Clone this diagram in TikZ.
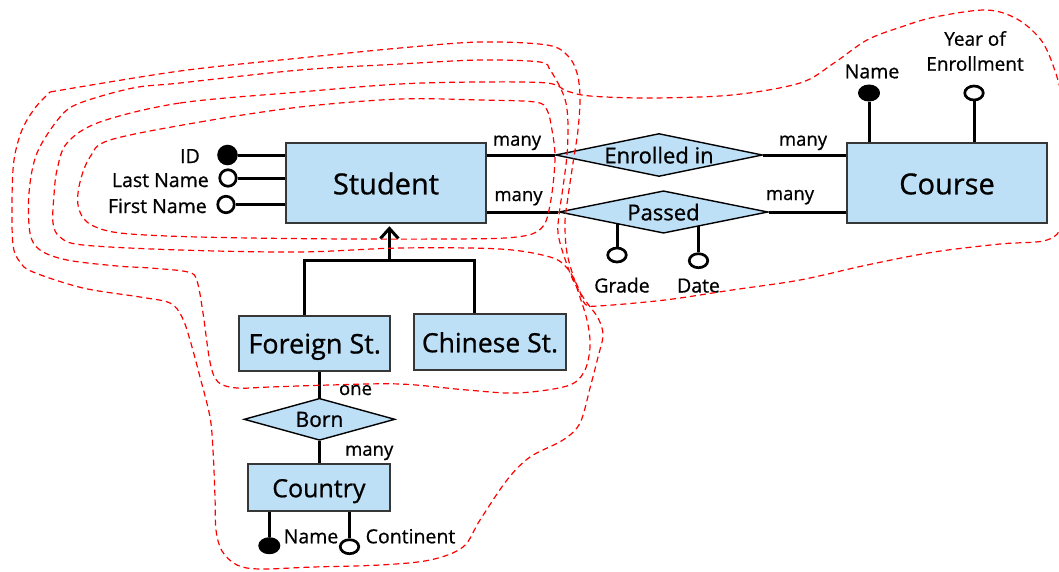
\documentclass[tikz,border=0pt]{standalone}
\usepackage{fontspec}
\setmainfont{Open Sans}[RawFeature={embolden=0.8}]
\usetikzlibrary{shapes.geometric,arrows.meta,backgrounds}
\definecolor{erfill}{RGB}{189,224,247}
\definecolor{erline}{RGB}{55,55,55}
\begin{document}
\begin{tikzpicture}[x=1pt,y=-1pt,
  entity/.style={draw=erline, fill=erfill, line width=1.9pt, inner sep=0pt, text depth=0pt},
  relation/.style={diamond, draw=black, fill=erfill, line width=1.4pt, inner sep=0pt, text depth=0pt},
  link/.style={line width=3pt, draw=black},
  keyattr/.style={circle, fill=black, draw=black, line width=1pt, minimum size=19.5pt, inner sep=0pt},
  attr/.style={circle, fill=white, draw=black, line width=2.7pt, minimum size=16.5pt, inner sep=0pt},
  keyoval/.style={ellipse, fill=black, draw=black, line width=1pt, minimum width=21pt, minimum height=16pt, inner sep=0pt},
  attroval/.style={ellipse, fill=white, draw=black, line width=2.7pt, minimum width=18.5pt, minimum height=14pt, inner sep=0pt},
  lbl/.style={inner sep=0pt, font=\fontsize{19.5}{23}\selectfont},
  card/.style={inner sep=0pt, font=\fontsize{18.5}{22}\selectfont},
  fence/.style={draw=red, line width=1.2pt, dash pattern=on 6pt off 4pt}
]
\useasboundingbox (0,0) rectangle (1059,571);

% entities
\node[entity, minimum width=200pt, minimum height=80pt, text height=22pt,
      font=\fontsize{29}{34}\selectfont] (student) at (386,183.3) {Student};
\node[entity, minimum width=200pt, minimum height=80pt, text height=22pt,
      font=\fontsize{29}{34}\selectfont] (course) at (947,183.3) {Course};
\node[entity, minimum width=150.7pt, minimum height=55.3pt, text height=20.5pt,
      font=\fontsize{27}{32}\selectfont] (foreign) at (314.7,343.2) {Foreign St.};
\node[entity, minimum width=151.4pt, minimum height=55.7pt, text height=20.1pt,
      font=\fontsize{26.5}{31}\selectfont] (chinese) at (490,342.2) {Chinese St.};
\node[entity, minimum width=142.3pt, minimum height=46.7pt, text height=19pt,
      font=\fontsize{25}{30}\selectfont] (country) at (318.9,487.7) {Country};

% relationships
\node[relation, aspect=4.8, minimum width=207pt, minimum height=43pt,
      font=\fontsize{22}{26}\selectfont] (enrolled) at (659,155) {Enrolled in};
\node[relation, aspect=4.9, minimum width=209pt, minimum height=42.5pt,
      font=\fontsize{22}{26}\selectfont] (passed) at (663.5,212) {Passed};
\node[relation, aspect=3.6, minimum width=151pt, minimum height=42pt,
      font=\fontsize{21}{25}\selectfont] (born) at (319.5,419.3) {Born};

% attribute markers
\node[keyattr] (idc) at (227.5,155) {};
\node[attr] (lnc) at (228,178) {};
\node[attr] (fnc) at (226,204.5) {};
\node[keyoval] (cnamec) at (869,93) {};
\node[attroval] (cyearc) at (974,93) {};
\node[attroval] (gradec) at (617,255) {};
\node[attroval] (datec) at (698.5,260.7) {};
\node[keyoval] (ctnamec) at (269.3,545.7) {};
\node[attroval] (ctcontc) at (349.5,546.7) {};

% attribute names
\node[lbl, anchor=base east] (idl) at (200,163) {ID};
\node[lbl, anchor=base east] (lnl) at (209,187) {Last Name};
\node[lbl, anchor=base east] (fnl) at (207,213) {First Name};
\node[lbl, anchor=base] (cnamel) at (872,78.3) {Name};
\node[lbl, align=center, font=\fontsize{19}{25}\selectfont] (cyearl) at (975,51) {Year of\\Enrollment};
\node[lbl, anchor=base] (gradel) at (622,292.5) {Grade};
\node[lbl, anchor=base] (datel) at (698.5,292.5) {Date};
\node[lbl, anchor=base] (ctnamel) at (311,543.3) {Name};
\node[lbl, anchor=base] (ctcontl) at (410.5,543.3) {Continent};

% cardinalities
\node[card, anchor=base] (m1) at (517,145.7) {many};
\node[card, anchor=base] (m2) at (518.5,201) {many};
\node[card, anchor=base] (m3) at (803,145.7) {many};
\node[card, anchor=base] (m4) at (790,200) {many};
\node[card, anchor=base] (one) at (355.5,395) {one};
\node[card, anchor=base] (m5) at (369.2,455.7) {many};

% generalization hub
\coordinate (isaL) at (304.5,260);
\coordinate (isaR) at (474.3,260);
\coordinate (isa) at (389.4,260);

\begin{scope}[on background layer]
  \draw[link] (enrolled.west -| student.east) -- (enrolled.west);
  \draw[link] (passed.west -| student.east) -- (passed.west);
  \draw[link] (enrolled.east) -- (enrolled.east -| course.west);
  \draw[link] (passed.east) -- (passed.east -| course.west);
  \draw[link] (idc) -- (idc -| student.west);
  \draw[link] (lnc) -- (lnc -| student.west);
  \draw[link] (fnc) -- (fnc -| student.west);
  \draw[link] (cnamec) -- (cnamec |- course.center);
  \draw[link] (cyearc) -- (cyearc |- course.center);
  \draw[link] (gradec) -- (gradec |- passed.center);
  \draw[link] (datec) -- (datec |- passed.center);
  \draw[link] (born) -- (born |- foreign.center);
  \draw[link] (born) -- (born |- country.center);
  \draw[link] (ctnamec) -- (ctnamec |- country.center);
  \draw[link] (ctcontc) -- (ctcontc |- country.center);
  \draw[link, line join=miter] (isaL |- foreign.center) -- (isaL) -- (isaR) -- (isaR |- chinese.center);
\end{scope}
\draw[link, shorten >=2pt, -{Straight Barb[length=10pt,width=18pt]}] (isa) -- (isa |- student.south);

% views drawn as dashed outlines
\draw[fence] plot[smooth cycle, tension=0.55] coordinates {
  (110,140) (200,122) (300,107) (400,99) (480,100) (535,102) (547,110) (552,130)
  (555,155) (553,185) (549,210) (544,225) (532,234) (505,238) (450,239) (350,239)
  (250,238) (167,236) (113,232) (87,222) (78,205) (80,182) (90,157)};

\draw[fence] plot[smooth cycle, tension=0.55] coordinates {
  (100,122) (180,103) (300,92) (400,84) (480,82) (547,83) (567,91) (590,96)
  (650,98) (732,95) (800,83) (834,63) (867,40) (901,27) (935,17) (986,10)
  (1017,19) (1041,40) (1054,68) (1062,100) (1066,160) (1062,222) (1047,240)
  (1000,244) (934,252) (867,265) (800,280) (732,290) (665,300) (598,306)
  (585,304) (578,287) (567,268) (550,257) (500,249) (400,248) (300,252)
  (180,250) (83,245) (60,237) (53,223) (54,195) (57,170) (67,143)};

\draw[fence] plot[smooth, tension=0.55] coordinates {
  (50,92) (180,71) (300,58) (400,48) (480,42) (547,45) (568,56) (577,73)
  (580,97) (578,130) (573,163) (568,197) (565,222) (567,253) (576,285)
  (587,320) (590,347) (584,372) (567,386) (517,393) (467,390) (400,384)
  (330,385) (270,387) (237,388) (218,382) (210,362) (203,313) (197,281)
  (188,272) (150,268) (117,266) (67,260) (40,250) (30,233) (29,193) (37,153)
  (60,117) (80,103) (133,88) (180,83) (300,70) (400,64) (480,60) (540,62)
  (550,70) (560,87) (566,103) (568,125) (567,155) (563,187) (559,215)
  (558,233) (563,253) (573,280) (585,300) (598,318) (603,335) (598,357)
  (590,388) (580,423) (563,440) (530,457) (507,480) (480,520) (463,547)
  (430,560) (380,565) (313,567) (260,569) (237,565) (222,551) (216,530)
  (215,497) (213,450) (210,417) (200,377) (190,340) (182,317) (170,303)
  (140,297) (83,288) (33,272) (20,262) (13,245) (12,200) (14,160) (22,130)
  (35,108) (50,92)};
\end{tikzpicture}
\end{document}
